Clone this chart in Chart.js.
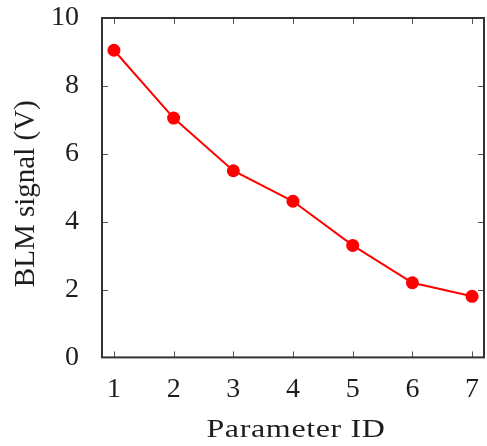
<!DOCTYPE html>
<html>
<head>
<meta charset="utf-8">
<script src="https://cdn.jsdelivr.net/npm/chart.js@4.4.1/dist/chart.umd.min.js"></script>
<style>
    html, body { margin: 0; padding: 0; background: #fff; }
    #wrap { width: 487px; height: 446px; }
</style>
</head>
<body>
<div id="wrap"><canvas id="blmChart" width="487" height="446"></canvas></div>
<script>
// BLM signal for each parameter set
const paramIds = [1, 2, 3, 4, 5, 6, 7];
const blmSignal = [9.05, 7.05, 5.5, 4.6, 3.3, 2.2, 1.8];
const xTicks = [1, 2, 3, 4, 5, 6, 7];
const yTicks = [0, 2, 4, 6, 8, 10];
const xTitle = 'Parameter ID';
const yTitle = 'BLM signal (V)';

const FONT = "'Liberation Serif', 'Times New Roman', serif";
const AXIS_COLOR = '#333';
const TEXT_COLOR = '#1e1e1e';

// gnuplot-like frame with inward ticks on every side
const frameTicks = {
    id: 'frameTicks',
    afterDraw(chart) {
        const { ctx, chartArea: a, scales } = chart;
        const len = 6;
        ctx.save();
        ctx.strokeStyle = '#555';
        ctx.lineWidth = 1;
        ctx.beginPath();
        xTicks.forEach(v => {
            const px = Math.round(scales.x.getPixelForValue(v)) + 0.5;
            ctx.moveTo(px, a.bottom); ctx.lineTo(px, a.bottom - len);
            ctx.moveTo(px, a.top); ctx.lineTo(px, a.top + len);
        });
        yTicks.forEach(v => {
            const py = Math.round(scales.y.getPixelForValue(v)) + 0.5;
            ctx.moveTo(a.left, py); ctx.lineTo(a.left + len, py);
            ctx.moveTo(a.right, py); ctx.lineTo(a.right - len, py);
        });
        ctx.stroke();
        ctx.strokeStyle = AXIS_COLOR;
        ctx.lineWidth = 2;
        ctx.strokeRect(a.left, a.top, a.right - a.left, a.bottom - a.top);
        ctx.restore();
    }
};

// axis titles, drawn a bit wider than the plain font
const axisTitles = {
    id: 'axisTitles',
    afterDraw(chart) {
        const { ctx, chartArea: a } = chart;
        ctx.save();
        ctx.fillStyle = TEXT_COLOR;
        ctx.textAlign = 'center';
        ctx.textBaseline = 'alphabetic';

        ctx.save();
        ctx.font = `25px ${FONT}`;
        ctx.letterSpacing = '0.5px';
        ctx.translate((a.left + a.right) / 2 + 3, 437);
        ctx.scale(1.28, 1);
        ctx.fillText(xTitle, 0, 0);
        ctx.restore();

        ctx.save();
        ctx.font = `29px ${FONT}`;
        ctx.translate(34, (a.top + a.bottom) / 2 + 6);
        ctx.rotate(-Math.PI / 2);
        ctx.fillText(yTitle, 0, 0);
        ctx.restore();

        ctx.restore();
    }
};

// labels may hang past the plot edge, the padding below takes care of it
const noOverflow = s => {
    s.paddingTop = 0; s.paddingBottom = 0;
    s.paddingLeft = 0; s.paddingRight = 0;
};

const ctx = document.getElementById('blmChart').getContext('2d');
new Chart(ctx, {
    type: 'line',
    data: {
        datasets: [{
            data: paramIds.map((x, i) => ({ x: x, y: blmSignal[i] })),
            borderColor: '#ff0000',
            backgroundColor: '#ff0000',
            borderWidth: 2,
            pointRadius: 6.5,
            pointBorderWidth: 0,
            tension: 0,
            fill: false
        }]
    },
    options: {
        responsive: false,
        animation: false,
        layout: { autoPadding: false, padding: { left: 28, right: 3, top: 18, bottom: 25 } },
        plugins: { legend: { display: false }, tooltip: { enabled: false } },
        scales: {
            x: {
                type: 'linear',
                min: 0.8,
                max: 7.2,
                afterBuildTicks: s => { s.ticks = xTicks.map(v => ({ value: v })); },
                afterFit: noOverflow,
                grid: { display: false, drawTicks: false },
                border: { display: false },
                ticks: { color: TEXT_COLOR, font: { family: FONT, size: 28 }, padding: 15, maxRotation: 0 }
            },
            y: {
                min: 0,
                max: 10,
                afterBuildTicks: s => { s.ticks = yTicks.map(v => ({ value: v })); },
                afterFit: noOverflow,
                grid: { display: false, drawTicks: false },
                border: { display: false },
                ticks: { color: TEXT_COLOR, font: { family: FONT, size: 28 }, padding: 23 }
            }
        }
    },
    plugins: [frameTicks, axisTitles]
});
</script>
</body>
</html>
